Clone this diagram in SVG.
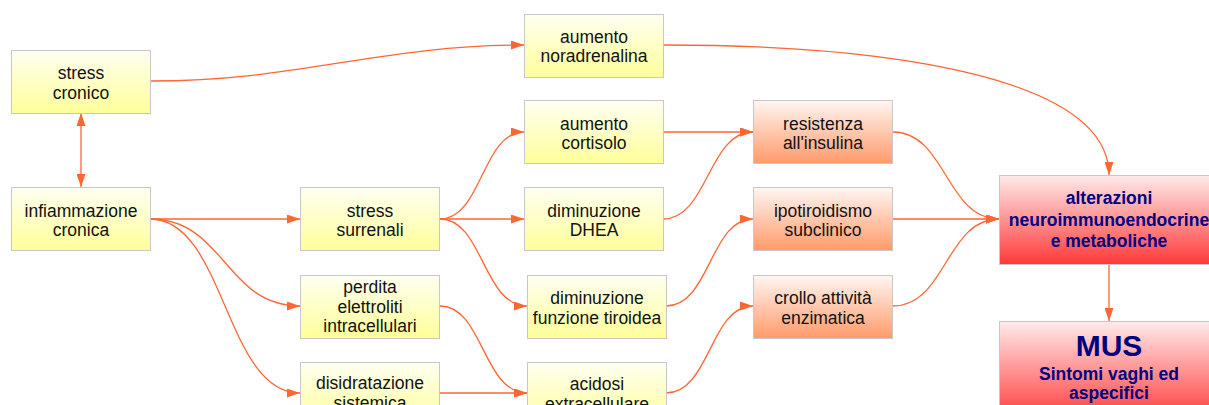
<svg xmlns="http://www.w3.org/2000/svg" width="1209" height="405" viewBox="0 0 1209 405">
<defs>
<linearGradient id="gy" x1="0" y1="0" x2="0" y2="1"><stop offset="0" stop-color="#fffff2"/><stop offset="1" stop-color="#ffff99"/></linearGradient>
<linearGradient id="go" x1="0" y1="0" x2="0" y2="1"><stop offset="0" stop-color="#fff6f2"/><stop offset="1" stop-color="#ff9a6a"/></linearGradient>
<linearGradient id="gr" x1="0" y1="0" x2="0" y2="1"><stop offset="0" stop-color="#ffeaea"/><stop offset="1" stop-color="#ff3838"/></linearGradient>
<marker id="ah" viewBox="0 0 13 9" refX="13" refY="4.5" markerWidth="13" markerHeight="9" markerUnits="userSpaceOnUse" orient="auto-start-reverse"><path d="M0,0 L13,4.5 L0,9 z" fill="#ff6633"/></marker>
<style>
.y{fill:url(#gy);stroke:#c8c8c8;stroke-width:1}
.o{fill:url(#go);stroke:#c8c8c8;stroke-width:1}
.r{fill:url(#gr);stroke:#c8c8c8;stroke-width:1}
.t{font-family:"Liberation Sans",Arial,sans-serif;font-size:17.5px;fill:#111;text-anchor:middle}
.b{font-family:"Liberation Sans",Arial,sans-serif;font-size:17.5px;font-weight:bold;fill:#000080;text-anchor:middle}
.big{font-family:"Liberation Sans",Arial,sans-serif;font-size:30px;font-weight:bold;fill:#000080;text-anchor:middle}
#edges path{fill:none;stroke:#ff6633;stroke-width:1.3;marker-end:url(#ah)}
</style>
</defs>
<g id="edges">
<path d="M150,81 C300,81 380,45 524,45"/>
<path d="M81,113 L81,187" marker-start="url(#ah)"/>
<path d="M150,219 L300,219"/>
<path d="M150,219 C225,219 225,306 300,306"/>
<path d="M150,219 C225,219 225,393 300,393"/>
<path d="M440,219 C482,219 482,132 524,132"/>
<path d="M440,219 L524,219"/>
<path d="M440,219 C483,219 483,306 527,306"/>
<path d="M663,45 C900,45 1109,80 1109,175"/>
<path d="M663,132 L753,132"/>
<path d="M663,219 C708,219 708,132 753,132"/>
<path d="M666,306 C710,306 710,219 753,219"/>
<path d="M666,393 C710,393 710,306 753,306"/>
<path d="M440,306 C483,306 483,393 527,393"/>
<path d="M440,393 L527,393"/>
<path d="M893,132 C946,132 946,219 999,219"/>
<path d="M893,219 L999,219"/>
<path d="M893,306 C946,306 946,219 999,219"/>
<path d="M1109,264 L1109,321"/>
</g>
<g id="n_stress_cronico"><rect class="y" x="11.5" y="50.5" width="139" height="63"/><text class="t" x="81" y="79">stress</text><text class="t" x="81" y="99">cronico</text></g>
<g id="n_infiammazione"><rect class="y" x="11.5" y="187.5" width="139" height="63"/><text class="t" x="81" y="216.5">infiammazione</text><text class="t" x="81" y="236">cronica</text></g>
<g id="n_stress_surrenali"><rect class="y" x="300.5" y="187.5" width="139" height="63"/><text class="t" x="370" y="216.5">stress</text><text class="t" x="370" y="236">surrenali</text></g>
<g id="n_perdita"><rect class="y" x="300.5" y="275.5" width="139" height="63"/><text class="t" x="370" y="293">perdita</text><text class="t" x="370" y="312.5">elettroliti</text><text class="t" x="370" y="332">intracellulari</text></g>
<g id="n_disidratazione"><rect class="y" x="300.5" y="362.5" width="139" height="63"/><text class="t" x="370" y="389">disidratazione</text><text class="t" x="370" y="409">sistemica</text></g>
<g id="n_noradrenalina"><rect class="y" x="524.5" y="14.5" width="139" height="63"/><text class="t" x="594" y="42.5">aumento</text><text class="t" x="594" y="62">noradrenalina</text></g>
<g id="n_cortisolo"><rect class="y" x="524.5" y="100.5" width="139" height="63"/><text class="t" x="594" y="129.5">aumento</text><text class="t" x="594" y="149">cortisolo</text></g>
<g id="n_dhea"><rect class="y" x="524.5" y="187.5" width="139" height="63"/><text class="t" x="594" y="216.5">diminuzione</text><text class="t" x="594" y="236">DHEA</text></g>
<g id="n_tiroidea"><rect class="y" x="527.5" y="275.5" width="139" height="63"/><text class="t" x="597" y="303.5">diminuzione</text><text class="t" x="597" y="323.5">funzione tiroidea</text></g>
<g id="n_acidosi"><rect class="y" x="527.5" y="362.5" width="139" height="63"/><text class="t" x="597" y="389.5">acidosi</text><text class="t" x="597" y="409.5">extracellulare</text></g>
<g id="n_resistenza"><rect class="o" x="753.5" y="100.5" width="139" height="63"/><text class="t" x="823" y="129.5">resistenza</text><text class="t" x="823" y="149">all'insulina</text></g>
<g id="n_ipotiroidismo"><rect class="o" x="753.5" y="187.5" width="139" height="63"/><text class="t" x="823" y="216.5">ipotiroidismo</text><text class="t" x="823" y="236">subclinico</text></g>
<g id="n_crollo"><rect class="o" x="753.5" y="275.5" width="139" height="63"/><text class="t" x="823" y="303.5">crollo attività</text><text class="t" x="823" y="323.5">enzimatica</text></g>
<g id="n_alterazioni"><rect class="r" x="999.5" y="175.5" width="220" height="89"/><text class="b" x="1109" y="204">alterazioni</text><text class="b" x="1109" y="225.5">neuroimmunoendocrine</text><text class="b" x="1109" y="247">e metaboliche</text></g>
<g id="n_mus"><rect class="r" x="999.5" y="321.5" width="220" height="100"/><text class="big" x="1109" y="356">MUS</text><text class="b" x="1109" y="379.5">Sintomi vaghi ed</text><text class="b" x="1109" y="399">aspecifici</text></g>
</svg>
